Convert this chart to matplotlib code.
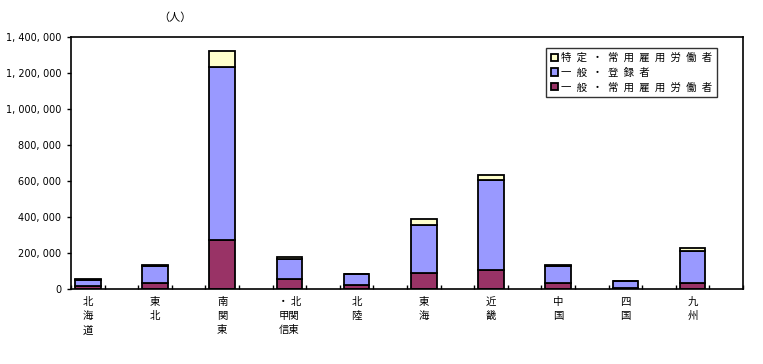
import numpy as np
import matplotlib.pyplot as plt

plt.rcParams['font.family'] = ['Noto Sans CJK JP', 'DejaVu Sans']

# regions (vertical labels, one char per line)
regions = ['北\n海\n道', '東\n北', '南\n関\n東', '・ 北\n甲関\n信東', '北\n陸',
           '東\n海', '近\n畿', '中\n国', '四\n国', '九\n州']

# values (persons)
general_regular = [15000, 35000, 274000, 54000, 20000, 91000, 104000, 35000, 8000, 35000]
general_registered = [37000, 92000, 961000, 111000, 61000, 266000, 503000, 93000, 34000, 178000]
specific_regular = [2000, 4000, 87000, 11000, 2000, 30000, 26000, 7000, 1000, 13000]

labels = ['一般・常用雇用労働者', '一般・登録者', '特定・常用雇用労働者']
colors = ['#993366', '#9999FF', '#FFFFCC']

fig = plt.figure(figsize=(7.63, 3.64), dpi=100)
ax = fig.add_axes([71 / 763, 1 - 289 / 364, 672 / 763, 252 / 364])

# every region sits in one slot followed by an empty slot
x = np.arange(len(regions)) * 2 + 0.5
w = 0.76
bottom = np.zeros(len(regions))
bars = []
for vals, col, lab in zip([general_regular, general_registered, specific_regular], colors, labels):
    b = ax.bar(x, vals, w, bottom=bottom, color=col, edgecolor='black', linewidth=1.3, label=lab)
    bars.append(b)
    bottom += np.array(vals)

ax.set_xlim(0, 2 * len(regions))
ax.set_ylim(0, 1400000)
yt = np.arange(0, 1400001, 200000)
ax.set_yticks(yt)
ax.set_yticklabels([f'{v:,}'.replace(',', ', ') for v in yt], fontsize=7, family='DejaVu Sans')
ax.tick_params(axis='y', direction='out', length=3, width=1, pad=4)

ax.set_xticks(np.arange(0, 2 * len(regions) + 1))
ax.set_xticklabels([])
ax.tick_params(axis='x', direction='in', length=3, width=1)
for xi, r in zip(x, regions):
    ax.text(xi, -0.03, r, transform=ax.get_xaxis_transform(), ha='center', va='top',
            fontsize=7.5, linespacing=1.55)

for s in ax.spines.values():
    s.set_linewidth(1.2)

fig.text(175 / 763, 1 - 18 / 364, '（人）', ha='center', va='center', fontsize=8)

# legend text is spread out like the original
def spaced(s):
    return '\u2002'.join(s)

handles = [bars[2], bars[1], bars[0]]
leg = ax.legend(handles, [spaced(labels[2]), spaced(labels[1]), spaced(labels[0])], loc='upper left',
                bbox_to_anchor=((546 - 71) / 672, (289 - 48) / 252), fontsize=7.5,
                frameon=True, fancybox=False, edgecolor='black', handlelength=0.7,
                handleheight=0.7, handletextpad=0.3, borderpad=0.45, labelspacing=0.45,
                borderaxespad=0)
leg.get_frame().set_linewidth(1.0)

fig.savefig('out.png', dpi=100)
